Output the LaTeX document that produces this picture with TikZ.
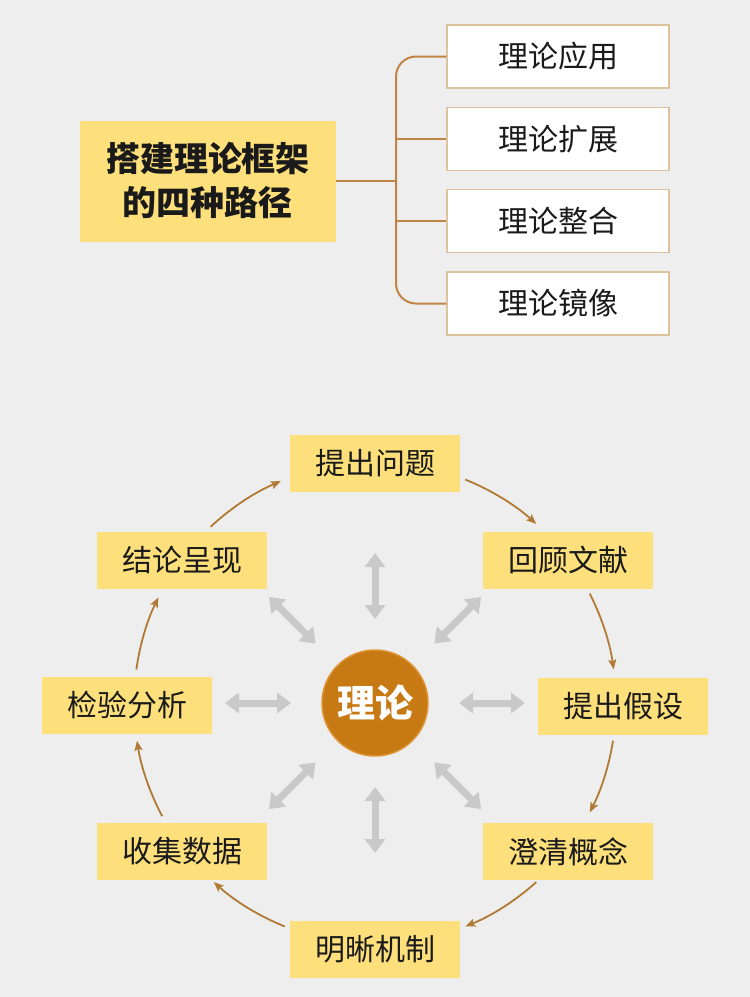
\documentclass[tikz,border=0pt]{standalone}
\usepackage{fontspec}
\setmainfont{Noto Sans CJK SC}
\usetikzlibrary{arrows.meta,calc}
\definecolor{bg}{HTML}{EDEEED}
\definecolor{ylw}{HTML}{FDE07B}
\definecolor{brn}{HTML}{C08545}
\definecolor{flowc}{HTML}{B07A35}
\definecolor{circ}{HTML}{C77A14}
\definecolor{circb}{HTML}{DD9535}
\definecolor{wbord}{HTML}{DDC29E}
\definecolor{gry}{HTML}{C9C9C9}
\definecolor{txt}{HTML}{1A1A1A}
\tikzset{
  titlebox/.style={fill=ylw, minimum width=256pt, minimum height=121pt, inner sep=0pt, align=center, text=txt,
    font=\fontsize{34}{44}\selectfont\bfseries},
  wbox/.style={fill=white, draw=wbord, line width=1.2pt, minimum width=222pt, minimum height=63pt, inner sep=0pt,
    text=txt, font=\fontsize{30}{36}\selectfont},
  ybox/.style={fill=ylw, minimum width=170pt, minimum height=57pt, inner sep=0pt,
    text=txt, font=\fontsize{30}{36}\selectfont},
  trunk/.style={draw=brn, line width=2pt},
  flow/.style={draw=flowc, line width=1.8pt, -{Stealth[length=10pt,width=8pt,inset=2pt]}},
  grayarrow/.style={draw=gry, line width=7pt,
    {Triangle[length=14pt,width=20pt]}-{Triangle[length=14pt,width=20pt]}},
}
\begin{document}
\begin{tikzpicture}[x=1pt,y=1pt]
\fill[bg] (0,0) rectangle (750,-997);
\useasboundingbox (0,0) rectangle (750,-997);

% top part
\node[titlebox] (main) at (208,-181) {搭建理论框架\\的四种路径};
\node[wbox] (b1) at (558,-56.5) {理论应用};
\node[wbox] (b2) at (558,-139) {理论扩展};
\node[wbox] (b3) at (558,-221) {理论整合};
\node[wbox] (b4) at (558,-303.5) {理论镜像};
\coordinate (tk) at (396,-181);
\draw[trunk, rounded corners=20pt] (b1.west) -| (tk) |- (b4.west);
\draw[trunk] (main.east) -- (tk);
\draw[trunk] (tk |- b2.west) -- (b2.west);
\draw[trunk] (tk |- b3.west) -- (b3.west);

% bottom part
\node[circle, fill=circ, draw=circb, line width=1.5pt, minimum size=106pt, inner sep=0pt, text=white,
  font=\fontsize{38}{40}\selectfont\bfseries] (th) at (375,-703) {理论};

\node[ybox] (q)  at (375,-463)   {提出问题};
\node[ybox] (lit) at (568,-560.5) {回顾文献};
\node[ybox] (hyp) at (623,-706)   {提出假设};
\node[ybox] (con) at (568,-851.5) {澄清概念};
\node[ybox] (mec) at (375,-949)   {明晰机制};
\node[ybox] (dat) at (182,-851.5) {收集数据};
\node[ybox] (ana) at (127,-705.5) {检验分析};
\node[ybox] (res) at (182,-560.5) {结论呈现};

\foreach \a in {0,45,...,315}{
  \draw[grayarrow] ($(th.center)+(\a:84)$) -- ($(th.center)+(\a:150)$);
}

\foreach \s/\e [count=\i] in {68/48, 27/8, -9/-27, -48/-68, -112/-132, -152/-171, 172/154, 133/113}{
  \coordinate (f\i) at ($(th.center)+(\s:241)$);
  \draw[flow] (f\i) arc[start angle=\s, end angle=\e, radius=241];
}
\end{tikzpicture}
\end{document}
